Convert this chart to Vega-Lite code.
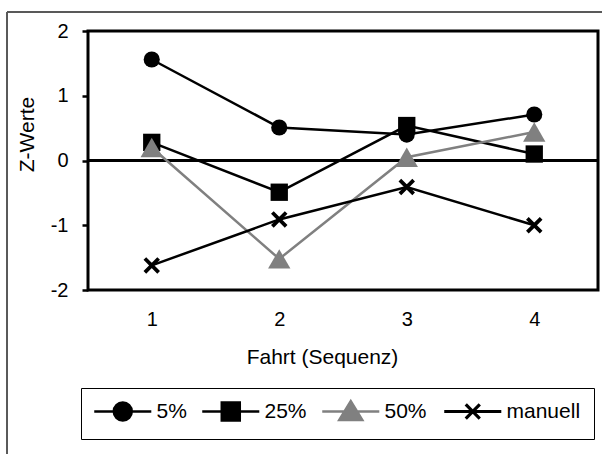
{
  "$schema": "https://vega.github.io/schema/vega-lite/v6.json",
  "width": 510,
  "height": 259,
  "autosize": "none",
  "padding": {"left": 88, "top": 31, "right": 4, "bottom": 164},
  "background": "#ffffff",
  "config": {
    "font": "Liberation Sans",
    "view": {"stroke": "#000000", "strokeWidth": 3},
    "axis": {
      "labelFont": "Liberation Sans",
      "titleFont": "Liberation Sans",
      "labelColor": "#000000",
      "titleColor": "#000000",
      "labelFontSize": 20,
      "titleFontSize": 21,
      "titleFontWeight": "normal",
      "grid": false,
      "domain": false
    }
  },
  "data": {
    "values": [
      {"fahrt": 1, "serie": "5%", "z": 1.56},
      {"fahrt": 2, "serie": "5%", "z": 0.51},
      {"fahrt": 3, "serie": "5%", "z": 0.4},
      {"fahrt": 4, "serie": "5%", "z": 0.71},
      {"fahrt": 1, "serie": "25%", "z": 0.28},
      {"fahrt": 2, "serie": "25%", "z": -0.49},
      {"fahrt": 3, "serie": "25%", "z": 0.54},
      {"fahrt": 4, "serie": "25%", "z": 0.1},
      {"fahrt": 1, "serie": "50%", "z": 0.2},
      {"fahrt": 2, "serie": "50%", "z": -1.52},
      {"fahrt": 3, "serie": "50%", "z": 0.05},
      {"fahrt": 4, "serie": "50%", "z": 0.44},
      {"fahrt": 1, "serie": "manuell", "z": -1.62},
      {"fahrt": 2, "serie": "manuell", "z": -0.91},
      {"fahrt": 3, "serie": "manuell", "z": -0.41},
      {"fahrt": 4, "serie": "manuell", "z": -1.0}
    ]
  },
  "layer": [
    {
      "mark": {"type": "rule", "color": "#5a5a5a", "strokeWidth": 1.5, "clip": false},
      "encoding": {
        "x": {"datum": -0.135, "type": "quantitative", "scale": {"domain": [0.5, 4.5], "nice": false, "zero": false}},
        "x2": {"datum": 4.6},
        "y": {"datum": 2.293, "type": "quantitative", "scale": {"domain": [-2, 2], "nice": false, "zero": false}}
      }
    },
    {
      "mark": {"type": "rule", "color": "#5a5a5a", "strokeWidth": 1.5, "clip": false},
      "encoding": {
        "x": {"datum": -0.135, "type": "quantitative"},
        "y": {"datum": 2.293, "type": "quantitative"},
        "y2": {"datum": -4.6}
      }
    },
    {
      "mark": {"type": "rule", "color": "#000000", "strokeWidth": 2.5},
      "encoding": {
        "y": {"datum": 0, "type": "quantitative"}
      }
    },
    {
      "mark": {"type": "line", "strokeWidth": 2.5, "strokeJoin": "miter"},
      "encoding": {
        "x": {
          "field": "fahrt",
          "type": "quantitative",
          "title": "Fahrt (Sequenz)",
          "axis": {
            "values": [1, 2, 3, 4],
            "labelExpr": "'' + datum.value",
            "ticks": false,
            "labelPadding": 19,
            "labelFlush": false,
            "titleX": 234,
            "titleY": 73,
            "titleAlign": "center",
            "titleBaseline": "alphabetic"
          }
        },
        "y": {
          "field": "z",
          "type": "quantitative",
          "title": "Z-Werte",
          "axis": {
            "values": [-2, -1, 0, 1, 2],
            "labelExpr": "'' + datum.value",
            "ticks": true,
            "tickSize": 6,
            "tickWidth": 2.5,
            "tickColor": "#000000",
            "labelPadding": 14,
            "titleX": -55,
            "titleY": 103,
            "titleAngle": -90,
            "titleAlign": "center",
            "titleBaseline": "alphabetic"
          }
        },
        "color": {
          "field": "serie",
          "type": "nominal",
          "sort": ["5%", "25%", "50%", "manuell"],
          "scale": {"domain": ["5%", "25%", "50%", "manuell"], "range": ["#000000", "#000000", "#808080", "#000000"]},
          "legend": {
            "title": null,
            "orient": "none",
            "direction": "horizontal",
            "legendX": -7,
            "legendY": 357,
            "strokeColor": "#000000",
            "fillColor": "#ffffff",
            "padding": 13,
            "columnPadding": 10,
            "gridAlign": "none",
            "labelFont": "Liberation Sans",
            "labelFontSize": 21,
            "labelColor": "#000000",
            "labelOffset": 41.5,
            "symbolSize": 324,
            "symbolStrokeWidth": 2.5,
            "encode": {
              "symbols": {
                "update": {
                  "shape": {"signal": "datum.value === '5%' ? 'M-1.14,0H5.2M1.03,0A1,1,0,1,0,3.03,0A1,1,0,1,0,1.03,0Z' : datum.value === '25%' ? 'M-1.14,0H5.2M1.03,-1H3.03V1H1.03Z' : datum.value === '50%' ? 'M-1.14,0H5.2M2.03,-1.15L3.31,0.95H0.75Z' : 'M-1.14,0H5.2M1.25,-0.78L2.81,0.78M1.25,0.78L2.81,-0.78'"},
                  "fill": {"signal": "datum.value === '50%' ? '#808080' : '#000000'"},
                  "stroke": {"signal": "datum.value === '50%' ? '#808080' : '#000000'"},
                  "strokeWidth": {"signal": "datum.value === 'manuell' ? 3.2 : 2.5"},
                  "opacity": {"value": 1}
                }
              }
            }
          }
        }
      }
    },
    {
      "transform": [{"filter": "datum.serie === '5%'"}],
      "mark": {"type": "point", "shape": "circle", "filled": true, "opacity": 1, "color": "#000000", "size": 260},
      "encoding": {
        "x": {"field": "fahrt", "type": "quantitative"},
        "y": {"field": "z", "type": "quantitative"}
      }
    },
    {
      "transform": [{"filter": "datum.serie === '25%'"}],
      "mark": {"type": "point", "shape": "square", "filled": true, "opacity": 1, "color": "#000000", "size": 300},
      "encoding": {
        "x": {"field": "fahrt", "type": "quantitative"},
        "y": {"field": "z", "type": "quantitative"}
      }
    },
    {
      "transform": [{"filter": "datum.serie === '50%'"}],
      "mark": {"type": "point", "shape": "triangle-up", "filled": true, "opacity": 1, "color": "#808080", "size": 500},
      "encoding": {
        "x": {"field": "fahrt", "type": "quantitative"},
        "y": {"field": "z", "type": "quantitative"}
      }
    },
    {
      "transform": [{"filter": "datum.serie === 'manuell'"}],
      "mark": {"type": "point", "shape": "M-1,-1L1,1M-1,1L1,-1", "filled": false, "opacity": 1, "color": "#000000", "size": 190, "strokeWidth": 3.8},
      "encoding": {
        "x": {"field": "fahrt", "type": "quantitative"},
        "y": {"field": "z", "type": "quantitative"}
      }
    }
  ]
}
